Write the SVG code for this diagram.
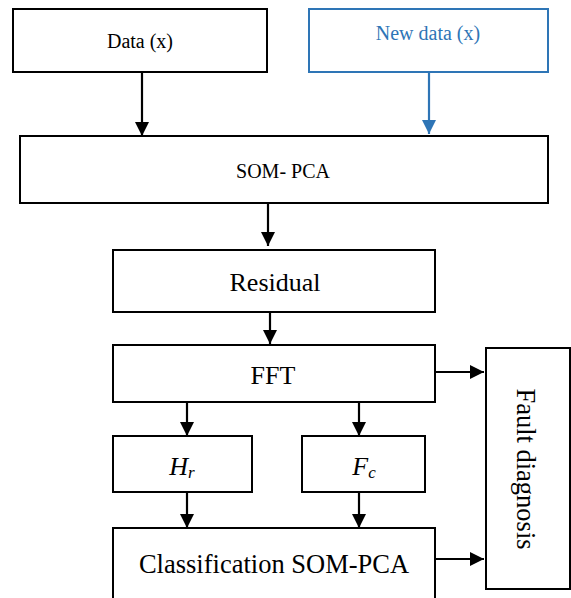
<svg xmlns="http://www.w3.org/2000/svg" width="571" height="598" viewBox="0 0 571 598">
<defs>
<style>
.box{fill:#fff;stroke:#000;stroke-width:2}
.blue{fill:#fff;stroke:#2E75B6;stroke-width:2}
.t{font-family:"Liberation Serif","Times New Roman",serif;fill:#000;text-anchor:middle}
.s{font-size:20px}
.l{font-size:26px}
.c{stroke:#000;stroke-width:2.2;fill:none}
.cb{stroke:#2E75B6;stroke-width:2.2;fill:none}
</style>
<marker id="ah" markerWidth="14" markerHeight="14" viewBox="0 0 14 14" refX="14" refY="7" orient="auto" markerUnits="userSpaceOnUse">
<path d="M0,0 L14,7 L0,14 Z" fill="#000"/>
</marker>
<marker id="ahb" markerWidth="14" markerHeight="14" viewBox="0 0 14 14" refX="14" refY="7" orient="auto" markerUnits="userSpaceOnUse">
<path d="M0,0 L14,7 L0,14 Z" fill="#2E75B6"/>
</marker>
</defs>
<rect width="571" height="598" fill="#fff"/>
<g id="connectors">
<line class="c" x1="142" y1="72" x2="142" y2="136" marker-end="url(#ah)"/>
<line class="cb" x1="429" y1="72" x2="429" y2="134" marker-end="url(#ahb)"/>
<line class="c" x1="268" y1="203" x2="268" y2="246" marker-end="url(#ah)"/>
<line class="c" x1="270" y1="312" x2="270" y2="344" marker-end="url(#ah)"/>
<line class="c" x1="187" y1="402" x2="187" y2="436" marker-end="url(#ah)"/>
<line class="c" x1="359" y1="402" x2="359" y2="436" marker-end="url(#ah)"/>
<line class="c" x1="187" y1="492" x2="187" y2="528" marker-end="url(#ah)"/>
<line class="c" x1="359" y1="492" x2="359" y2="528" marker-end="url(#ah)"/>
<line class="c" x1="435" y1="372" x2="484" y2="372" marker-end="url(#ah)"/>
<line class="c" x1="435" y1="559" x2="484" y2="559" marker-end="url(#ah)"/>
</g>
<g id="data">
<rect class="box" x="13" y="9" width="254" height="63"/>
<text class="t s" x="140" y="48">Data (x)</text>
</g>
<g id="newdata">
<rect class="blue" x="309" y="9" width="239" height="63"/>
<text class="t s" x="428" y="40" style="fill:#2E75B6">New data (x)</text>
</g>
<g id="sompca">
<rect class="box" x="20" y="136" width="528" height="67"/>
<text class="t s" x="283" y="178">SOM- PCA</text>
</g>
<g id="residual">
<rect class="box" x="113" y="250" width="322" height="62"/>
<text class="t l" x="275" y="291">Residual</text>
</g>
<g id="fft">
<rect class="box" x="113" y="345" width="322" height="57"/>
<text class="t l" x="273" y="384">FFT</text>
</g>
<g id="hr">
<rect class="box" x="113" y="436" width="139" height="56"/>
<text class="t l" x="182" y="475"><tspan font-style="italic">H</tspan><tspan font-style="italic" font-size="17" dy="3">r</tspan></text>
</g>
<g id="fc">
<rect class="box" x="302" y="436" width="123" height="56"/>
<text class="t l" x="364" y="475"><tspan font-style="italic">F</tspan><tspan font-style="italic" font-size="17" dy="3">c</tspan></text>
</g>
<g id="classification">
<rect class="box" x="113" y="528" width="322" height="80"/>
<text class="t" x="274" y="573" font-size="26.5">Classification SOM-PCA</text>
</g>
<g id="fault">
<rect class="box" x="486" y="348" width="84" height="241"/>
<text class="t" font-size="26.5" transform="translate(517,469) rotate(90)" x="0" y="0">Fault diagnosis</text>
</g>
</svg>
